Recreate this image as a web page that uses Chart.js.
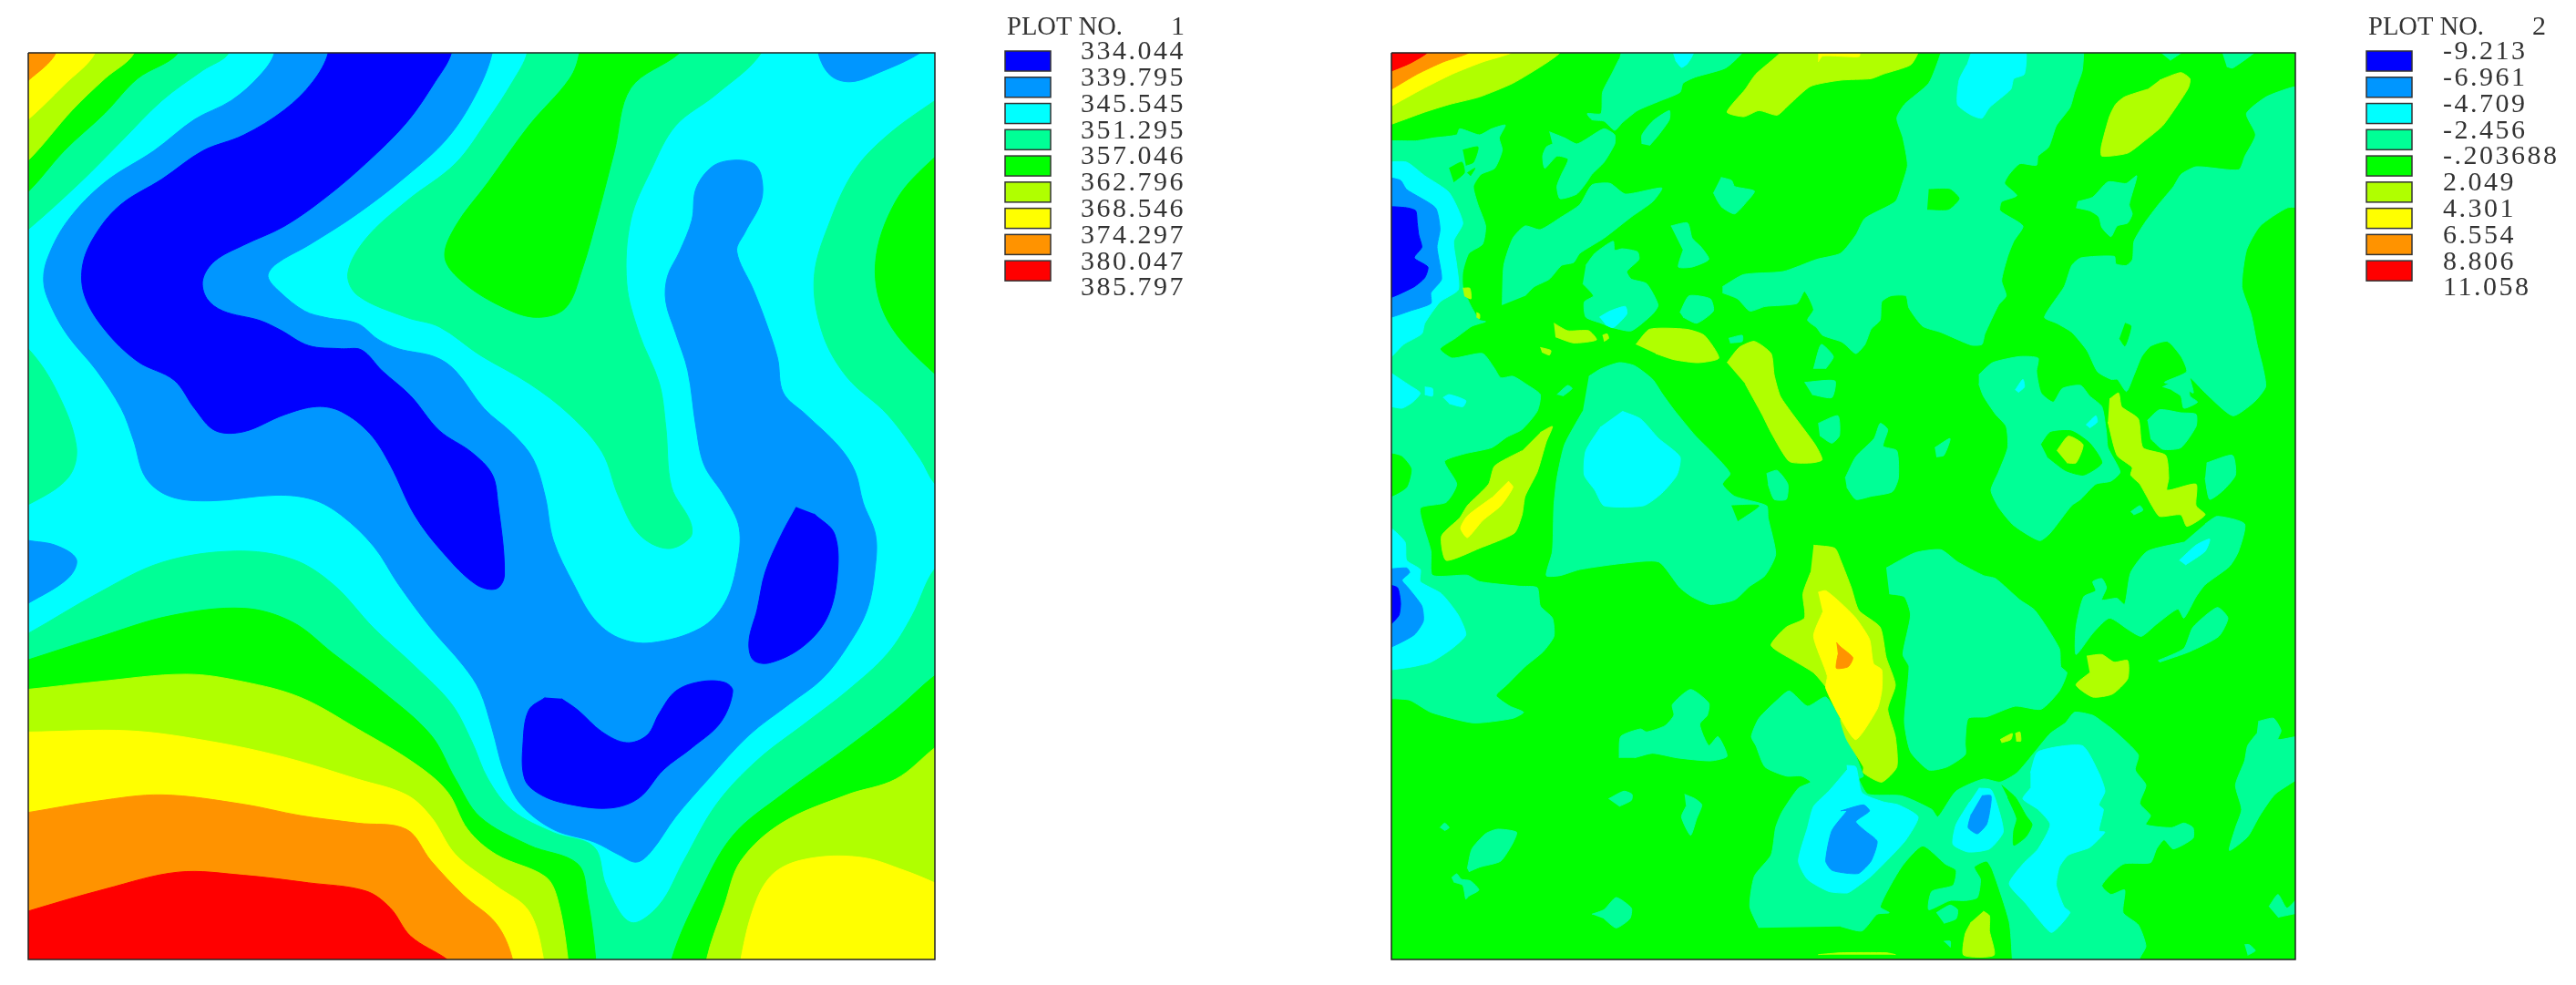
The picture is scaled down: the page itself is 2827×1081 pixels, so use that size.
<!DOCTYPE html>
<html>
<head>
<meta charset="utf-8">
<title>Plots</title>
<script src="https://cdn.jsdelivr.net/npm/chart.js@4"></script>
<style>
  html, body { margin: 0; background: #fff; }
  canvas { position: absolute; top: 0; }
</style>
</head>
<body>
<canvas id="plot1" width="1413" height="1081" style="left:0"></canvas>
<canvas id="plot2" width="1414" height="1081" style="left:1413px"></canvas>
<script>
// band colours, lowest to highest
const BLUE = '#0000ff', SKY = '#0096ff', CYAN = '#00ffff', TEAL = '#00ff96', GREEN = '#00ff00',
      LIME = '#b0ff00', YELLOW = '#ffff00', ORANGE = '#ff9300', RED = '#ff0000';
const bandColors = [BLUE, SKY, CYAN, TEAL, GREEN, LIME, YELLOW, ORANGE, RED];

const plotName = 'PLOT NO.';
const plot1Ticks = ['334.044', '339.795', '345.545', '351.295', '357.046', '362.796', '368.546', '374.297', '380.047', '385.797'];
const plot2Ticks = ['-9.213', '-6.961', '-4.709', '-2.456', '-.203688', '2.049', '4.301', '6.554', '8.806', '11.058'];

// plot 1 contour outlines as x,y,x,y...
const p1Teal = [
  [0,40, 282,40, 282,84, 250,112, 200,160, 150,225, 100,290, 36,365, 0,400],
  [648,40, 648,84, 630,130, 600,190, 560,260, 500,320, 450,380, 428,435, 440,470, 500,505, 540,520, 590,565, 650,610, 700,660, 740,720, 760,790, 785,850, 820,873, 848,855, 848,830, 825,775, 818,680, 810,610, 785,530, 770,450, 775,350, 800,270, 830,200, 880,150, 935,84, 935,40],
  [1190,125, 1148,160, 1090,215, 1050,270, 1020,350, 1000,440, 1010,530, 1040,600, 1090,660, 1130,730, 1148,770, 1190,820],
  [0,520, 36,555, 70,620, 95,710, 85,760, 36,803, 0,820],
  [0,1030, 36,1008, 120,945, 200,895, 290,877, 360,890, 410,930, 460,1000, 510,1060, 555,1120, 580,1180, 600,1240, 630,1290, 680,1325, 730,1348, 745,1410, 775,1468, 810,1440, 840,1370, 880,1280, 930,1210, 990,1150, 1040,1100, 1090,1040, 1120,980, 1148,905, 1190,860, 1190,1570, 0,1570]
];
const p1Green = [
  [0,40, 220,40, 220,84, 170,125, 130,180, 80,240, 36,305, 0,340],
  [712,40, 712,84, 700,125, 650,200, 600,290, 560,360, 547,410, 570,450, 620,490, 660,505, 695,490, 715,430, 735,340, 755,240, 775,140, 835,84, 860,40],
  [1190,210, 1148,250, 1100,320, 1075,420, 1090,510, 1148,595, 1190,630],
  [0,1065, 36,1050, 120,1015, 210,980, 300,968, 360,990, 410,1040, 470,1100, 530,1170, 560,1240, 590,1300, 650,1345, 710,1375, 722,1430, 732,1527, 732,1570, 0,1570],
  [825,1570, 825,1527, 860,1420, 900,1330, 960,1265, 1040,1190, 1100,1130, 1148,1075, 1190,1040, 1190,1570]
];
const p1Lime = [
  [0,40, 166,40, 166,84, 130,125, 90,175, 36,255, 0,290],
  [0,1100, 36,1097, 120,1085, 230,1073, 300,1085, 370,1110, 440,1160, 510,1215, 550,1260, 575,1320, 610,1360, 670,1395, 685,1430, 698,1527, 698,1570, 0,1570],
  [868,1570, 868,1527, 890,1440, 910,1370, 960,1310, 1040,1265, 1100,1240, 1148,1190, 1190,1150, 1190,1570]
];
const p1Yellow = [
  [0,40, 118,40, 118,84, 80,135, 36,190, 0,225],
  [0,1165, 36,1165, 160,1163, 260,1180, 350,1205, 440,1240, 500,1265, 530,1300, 560,1360, 610,1410, 650,1450, 668,1527, 668,1570, 0,1570],
  [910,1570, 910,1527, 930,1430, 955,1385, 1000,1365, 1060,1365, 1110,1385, 1148,1405, 1190,1430, 1190,1570]
];
const p1Orange = [
  [0,40, 70,40, 70,84, 36,128, 0,165],
  [0,1300, 36,1293, 120,1275, 200,1265, 300,1280, 370,1298, 440,1310, 500,1320, 530,1370, 570,1425, 610,1470, 630,1527, 630,1570, 0,1570]
];
const p1Red = [
  [0,1465, 36,1450, 130,1415, 220,1388, 300,1393, 380,1405, 450,1418, 480,1445, 505,1490, 550,1527, 590,1570, 0,1570]
];
const p1Sky = [
  [338,40, 338,84, 320,120, 285,160, 240,190, 190,240, 130,290, 85,350, 60,410, 55,450, 65,490, 85,535, 120,590, 150,650, 165,700, 180,760, 210,790, 260,797, 340,788, 385,795, 420,820, 460,870, 490,930, 530,1000, 570,1060, 590,1100, 605,1160, 620,1230, 640,1280, 680,1320, 730,1340, 760,1360, 782,1372, 800,1355, 830,1300, 870,1240, 920,1170, 970,1120, 1010,1080, 1040,1030, 1065,970, 1075,900, 1075,850, 1060,800, 1050,750, 1030,710, 990,660, 962,625, 955,570, 940,510, 925,460, 905,400, 915,370, 935,320, 935,280, 925,260, 900,255, 875,265, 855,300, 850,350, 835,400, 820,440, 818,480, 830,530, 845,590, 855,680, 865,740, 890,790, 908,840, 905,900, 890,960, 860,1000, 800,1023, 760,1015, 730,985, 705,930, 680,860, 670,790, 655,730, 630,690, 595,650, 560,590, 535,568, 490,555, 465,540, 440,515, 400,505, 375,495, 345,465, 330,440, 340,420, 380,390, 440,340, 500,280, 550,220, 585,150, 605,84, 605,40],
  [1005,40, 1005,84, 1020,120, 1045,130, 1080,115, 1130,84, 1170,40],
  [0,850, 36,860, 70,868, 95,890, 85,920, 36,960, 0,985]
];
const p1Blue = [
  [404,40, 404,84, 385,130, 350,175, 300,215, 250,240, 200,285, 150,325, 120,370, 103,420, 105,470, 130,525, 170,575, 215,605, 240,650, 265,685, 300,687, 350,660, 390,647, 420,655, 455,690, 480,740, 510,820, 545,880, 585,930, 610,937, 620,915, 612,800, 605,755, 580,720, 540,685, 505,630, 470,590, 445,557, 420,555, 380,550, 345,525, 320,510, 275,495, 255,475, 250,445, 265,415, 300,390, 350,360, 400,315, 450,260, 500,195, 535,130, 555,84, 555,40],
  [978,807, 960,850, 940,910, 930,970, 920,1020, 925,1050, 945,1055, 985,1030, 1015,985, 1028,920, 1025,850, 1000,818],
  [670,1110, 650,1130, 643,1180, 645,1240, 665,1265, 700,1280, 750,1286, 785,1270, 815,1225, 850,1190, 885,1150, 900,1100, 890,1086, 860,1085, 830,1100, 810,1135, 795,1170, 770,1182, 740,1165, 710,1130, 690,1112]
];

// plot 2 contour outlines
const p2Teal = [
  // left side, around the cold spots
  [-20,295, 0,290, 80,290, 140,280, 215,270, 225,250, 290,270, 330,250, 375,238, 355,280, 365,320, 340,380, 295,400, 270,440, 285,500, 310,570, 300,630, 255,660, 235,720, 235,770, 260,830, 290,880, 310,885, 265,900, 210,940, 160,975, 200,1005, 300,990, 340,1040, 360,1070, 400,1065, 450,1095, 490,1125, 480,1180, 430,1240, 380,1265, 330,1300, 240,1320, 175,1345, 215,1420, 180,1480, 95,1500, 130,1640, 135,1720, 250,1720, 290,1741, 420,1756, 480,1761, 490,1821, 530,1861, 535,1921, 500,1971, 440,2021, 380,2081, 345,2116, 390,2151, 435,2171, 400,2191, 270,2206, 130,2171, 60,2131, 0,2126, -20,2126],
  // top
  [760,-20, 1155,-20, 1155,0, 1100,50, 1000,80, 960,100, 950,130, 880,160, 810,190, 760,230, 735,255, 700,225, 660,220, 645,200, 690,200, 695,130, 725,70, 750,20],
  [825,300, 825,270, 860,225, 915,190, 915,220, 880,270, 850,305],
  [520,260, 570,280, 610,300, 640,285, 700,250, 735,270, 735,300, 700,360, 660,400, 640,430, 610,465, 555,480, 545,440, 560,400, 582,350, 545,340, 505,380, 498,340, 510,310, 530,300],
  [365,830, 370,700, 400,610, 440,570, 490,582, 560,540, 620,500, 660,435, 720,430, 770,465, 890,445, 860,490, 790,540, 700,610, 620,660, 600,690, 560,700, 520,745, 470,770, 440,800],
  [640,700, 670,660, 730,620, 735,650, 760,645, 810,655, 815,680, 775,720, 790,745, 840,760, 878,830, 860,860, 790,915, 730,905, 690,890, 640,870, 635,820, 665,800, 630,760],
  [1085,410, 1120,420, 1130,440, 1195,455, 1170,490, 1130,530, 1090,510, 1075,490, 1060,460],
  [920,570, 975,560, 990,610, 1020,640, 1045,680, 990,705, 945,705, 960,650],
  [950,855, 980,800, 1050,810, 1060,850, 1005,890, 960,870],
  // big centre top block
  [1090,770, 1160,730, 1290,720, 1400,680, 1479,660, 1529,600, 1559,545, 1659,490, 1679,440, 1699,370, 1684,280, 1664,215, 1689,170, 1769,100, 1809,0, 1809,-20, 2279,-20, 2279,0, 2274,60, 2249,130, 2234,180, 2189,240, 2164,310, 2129,340, 2124,370, 2069,365, 2034,400, 2019,430, 2059,470, 2009,490, 2004,520, 2079,570, 2049,620, 2029,670, 2009,750, 2024,800, 1999,830, 1954,925, 1944,960, 1909,962, 1809,920, 1749,900, 1704,840, 1694,800, 1644,800, 1614,820, 1609,880, 1579,910, 1559,960, 1529,990, 1494,960, 1479,950, 1420,930, 1400,905, 1370,880, 1390,845, 1360,785, 1335,825, 1230,835, 1180,850, 1140,810, 1090,790],
  [2509,-20, 2624,-20, 2564,25],
  [2729,-20, 2860,-20, 2770,50, 2750,45],
  // right block
  [3010,105, 2960,115, 2880,145, 2815,200, 2845,270, 2810,340, 2790,385, 2650,375, 2600,400, 2575,440, 2525,500, 2480,560, 2445,620, 2440,680, 2420,700, 2385,695, 2380,670, 2270,675, 2240,700, 2215,770, 2150,870, 2190,890, 2240,920, 2290,980, 2325,1050, 2370,1075, 2390,1075, 2420,1115, 2445,1060, 2470,1000, 2500,965, 2555,950, 2600,1000, 2618,1050, 2545,1085, 2600,1095, 2640,1120, 2630,1070, 2680,1120, 2770,1195, 2840,1150, 2878,1100, 2870,1040, 2850,960, 2830,860, 2800,770, 2815,650, 2860,570, 2950,510, 3010,510],
  [2259,490, 2309,475, 2359,425, 2419,430, 2454,405, 2429,500, 2439,530, 2424,560, 2389,570, 2369,605, 2339,575, 2329,540, 2299,520, 2254,510],
  [1934,1060, 1979,1020, 2069,1000, 2129,1005, 2124,1050, 2139,1120, 2179,1150, 2209,1105, 2269,1095, 2299,1130, 2339,1165, 2354,1250, 2359,1300, 2399,1380, 2369,1410, 2319,1420, 2269,1470, 2239,1491, 2169,1581, 2134,1606, 2049,1556, 1999,1496, 1974,1440, 1999,1380, 2029,1300, 2024,1230, 1989,1190, 1949,1130, 1934,1090],
  [2489,1210, 2529,1175, 2599,1185, 2649,1190, 2649,1230, 2599,1300, 2539,1305, 2499,1270],
  [2539,1100, 2619,1065, 2629,1130, 2654,1150, 2609,1170, 2599,1130, 2569,1110],
  [2684,1350, 2769,1325, 2779,1390, 2739,1440, 2694,1470, 2679,1400],
  [1494,1400, 1529,1330, 1589,1270, 1609,1220, 1634,1240, 1619,1295, 1664,1310, 1669,1400, 1649,1445, 1579,1460, 1529,1470, 1499,1430],
  [1789,1300, 1839,1270, 1819,1325, 1794,1330],
  [1405,1220, 1470,1195, 1475,1260, 1450,1285, 1410,1260],
  [1360,1085, 1460,1080, 1450,1135, 1385,1125],
  [1390,1040, 1415,960, 1455,1000, 1430,1040],
  [1235,1385, 1270,1375, 1305,1420, 1300,1470, 1260,1470, 1240,1420],
  [545,1125, 580,1095, 595,1105, 565,1130],
  [1110,940, 1155,930, 1155,950, 1115,955],
  // centre left block with the cyan spot
  [650,1065, 690,1040, 750,1020, 800,1030, 860,1075, 890,1120, 930,1175, 1000,1260, 1060,1320, 1115,1385, 1090,1420, 1130,1460, 1235,1491, 1240,1531, 1265,1651, 1230,1721, 1180,1756, 1130,1801, 1050,1816, 990,1791, 950,1761, 880,1676, 760,1681, 620,1701, 555,1721, 510,1721, 530,1641, 535,1491, 545,1400, 570,1290, 630,1180],
  [1629,1696, 1724,1646, 1809,1636, 1864,1676, 1949,1721, 1989,1731, 2069,1801, 2119,1836, 2199,1961, 2204,2021, 2224,2041, 2199,2101, 2139,2161, 2054,2151, 1959,2186, 1899,2191, 1889,2271, 1889,2311, 1829,2351, 1769,2361, 1709,2301, 1689,2201, 1704,2021, 1684,1981, 1709,1851, 1689,1791, 1639,1781],
  [2679,1551, 2719,1526, 2809,1551, 2789,1641, 2759,1691, 2679,1751, 2649,1791, 2609,1861, 2589,1831, 2519,1881, 2469,1921, 2429,1901, 2364,1861, 2309,1911, 2254,1981, 2254,1891, 2279,1791, 2319,1771, 2309,1741, 2339,1731, 2354,1761, 2339,1801, 2389,1796, 2414,1816, 2434,1711, 2489,1641, 2609,1611],
  [2524,2001, 2609,1961, 2639,1891, 2719,1826, 2754,1861, 2724,1921, 2629,1971, 2529,2006],
  [2854,2201, 2904,2191, 2929,2231, 2919,2261, 3010,2251, 3010,2366, 2909,2441, 2859,2511, 2819,2581, 2759,2626, 2779,2551, 2799,2491, 2779,2411, 2809,2331, 2819,2281, 2849,2241],
  // bottom block
  [1210,2881, 1180,2811, 1195,2711, 1250,2641, 1265,2551, 1285,2501, 1340,2421, 1380,2401, 1350,2381, 1300,2381, 1230,2351, 1200,2281, 1185,2251, 1210,2191, 1270,2131, 1310,2101, 1370,2151, 1430,2121, 1480,2200, 1554,2381, 1539,2391, 1569,2441, 1679,2446, 1779,2491, 1799,2516, 1859,2431, 1949,2391, 2004,2401, 2059,2371, 2119,2301, 2169,2241, 2219,2206, 2249,2171, 2309,2181, 2339,2201, 2379,2231, 2459,2311, 2449,2361, 2484,2411, 2464,2471, 2499,2511, 2484,2541, 2569,2551, 2609,2536, 2639,2551, 2639,2586, 2574,2621, 2544,2591, 2519,2621, 2499,2666, 2409,2671, 2339,2741, 2369,2771, 2414,2756, 2409,2831, 2459,2871, 2484,2941, 2464,2981, 2464,3010, 2044,3010, 2044,2981, 2034,2861, 1979,2691, 1959,2661, 1919,2681, 1939,2721, 1929,2781, 1889,2791, 1839,2791, 1769,2821, 1779,2761, 1849,2741, 1859,2691, 1824,2671, 1749,2611, 1679,2681, 1609,2811, 1639,2831, 1599,2836, 1549,2891, 1479,2876],
  [1794,2831, 1839,2806, 1864,2821, 1859,2851, 1819,2866],
  [1819,2925, 1840,2925, 1840,2945],
  // scattered patches lower left
  [250,2686, 265,2621, 310,2571, 350,2556, 412,2566, 400,2601, 360,2661, 290,2681, 255,2696],
  [198,2716, 215,2703, 230,2721, 260,2726, 288,2756, 255,2776, 245,2786, 235,2741, 205,2730],
  [715,2456, 765,2431, 792,2441, 790,2461, 750,2481],
  [965,2441, 1000,2456, 1022,2476, 1005,2521, 985,2576, 955,2516, 970,2481],
  [660,2836, 700,2821, 740,2781, 790,2816, 785,2851, 740,2881, 700,2851],
  [160,2551, 175,2536, 190,2551, 175,2561],
  [750,2321, 755,2251, 820,2226, 840,2236, 900,2216, 930,2181, 925,2146, 985,2096, 1045,2141, 1040,2181, 1015,2211, 1045,2281, 1075,2251, 1105,2316, 1050,2331, 940,2321, 860,2306, 800,2321],
  [2889,2811, 2919,2771, 2949,2816, 3010,2756, 3010,2821, 2919,2846],
  [2809,2936, 2824,2936, 2844,2956, 2819,2971],
  [2434,1511, 2464,1491, 2474,1506, 2444,1521]
];
const p2Green = [
  [-20,1320, 0,1320, 35,1330, 65,1370, 50,1430, 0,1460, -20,1460],
  [190,380, 232,360, 240,395, 205,425],
  [235,320, 285,310, 270,360, 245,370],
  [250,395, 275,380, 260,405],
  [1769,450, 1839,450, 1869,480, 1834,515, 1764,515],
  [2415,890, 2435,900, 2415,965, 2397,940],
  [2139,1290, 2169,1250, 2239,1245, 2299,1285, 2339,1350, 2279,1390, 2219,1375, 2159,1330],
  [1120,1491, 1210,1491, 1140,1541],
  [2009,2411, 2054,2451, 2089,2511, 2109,2541, 2089,2581, 2049,2609, 2049,2561, 2059,2521, 2029,2451]
];
const p2Cyan = [
  [920,-20, 995,-20, 995,0, 975,35, 955,48, 935,25],
  [1914,-20, 2084,-20, 2084,70, 2049,85, 2039,120, 1969,180, 1944,215, 1909,205, 1864,170, 1869,90, 1894,40],
  [-20,360, 50,360, 110,405, 190,460, 235,560, 205,620, 215,700, 220,780, 160,820, 110,890, 100,925, 40,960, 0,1000, -20,1000],
  [0,1055, 60,1095, 95,1120, 70,1150, 35,1170, 0,1165, -20,1165, -20,1055],
  [110,1100, 135,1105, 135,1130, 110,1125],
  [170,1135, 190,1125, 245,1145, 235,1165, 190,1155],
  [-20,1566, 0,1566, 45,1611, 50,1671, 95,1701, 95,1741, 165,1781, 220,1851, 245,1916, 200,1961, 130,2006, 70,2021, 0,2031, -20,2031],
  [685,870, 720,850, 770,835, 775,860, 730,905, 705,895],
  [760,1180, 820,1205, 880,1270, 950,1330, 940,1390, 890,1450, 830,1491, 700,1491, 670,1440, 635,1390, 640,1310, 690,1230],
  [2054,1110, 2079,1075, 2084,1100, 2064,1118],
  [2287,1225, 2319,1195, 2324,1215, 2299,1235],
  [2594,1671, 2649,1621, 2694,1601, 2679,1641, 2614,1686],
  [2104,2371, 2129,2301, 2274,2281, 2329,2371, 2349,2431, 2329,2476, 2344,2491, 2329,2561, 2349,2566, 2299,2616, 2229,2641, 2199,2681, 2189,2741, 2214,2811, 2234,2831, 2174,2896, 2129,2851, 2089,2801, 2034,2736, 2079,2671, 2129,2621, 2169,2541, 2129,2491, 2079,2456, 2104,2421],
  [1934,2421, 1974,2426, 1999,2491, 2014,2566, 1969,2621, 1899,2631, 1849,2606, 1859,2541, 1904,2466],
  [1500,2361, 1440,2431, 1390,2481, 1370,2551, 1340,2661, 1370,2721, 1440,2761, 1500,2766, 1519,2756, 1579,2711, 1649,2641, 1694,2591, 1734,2516, 1669,2476, 1619,2466, 1549,2436, 1529,2351, 1499,2346]
];
const p2Sky = [
  [-20,408, 30,420, 50,450, 145,510, 160,580, 150,640, 165,745, 130,790, 130,825, 60,850, 0,870, -20,870],
  [-20,1701, 50,1696, 60,1711, 35,1736, 55,1761, 100,1821, 105,1871, 75,1916, 0,1956, -20,1956],
  [1944,2446, 1974,2446, 1969,2501, 1959,2541, 1929,2571, 1899,2551, 1909,2506],
  [1500,2496, 1450,2561, 1430,2661, 1450,2691, 1500,2701, 1539,2701, 1579,2661, 1599,2596, 1559,2561, 1529,2531, 1574,2496, 1554,2476, 1479,2496]
];
const p2Blue = [
  [-20,505, 50,510, 80,520, 85,560, 90,600, 100,640, 75,675, 120,705, 110,740, 75,770, 0,805, -20,805],
  [-20,1749, 20,1761, 30,1811, 25,1851, 0,1879, -20,1879]
];
const p2Lime = [
  [-20,-20, 555,-20, 555,0, 500,40, 400,100, 290,145, 190,170, 110,195, 0,235, -20,240],
  [1280,-20, 1280,0, 1200,70, 1165,120, 1105,195, 1160,210, 1210,190, 1270,205, 1310,170, 1380,110, 1479,90, 1579,85, 1619,70, 1709,40, 1734,0, 1734,-20],
  [2529,90, 2599,65, 2629,85, 2624,115, 2589,170, 2539,240, 2479,290, 2424,330, 2339,340, 2337,310, 2364,210, 2384,170, 2414,145, 2489,120],
  [490,1250, 530,1230, 510,1280, 480,1380, 440,1460, 430,1521, 405,1581, 290,1631, 180,1671, 165,1591, 225,1531, 250,1491, 320,1420, 340,1360, 430,1310],
  [235,775, 258,775, 262,810, 240,800],
  [280,855, 290,860, 290,875, 280,870],
  [535,890, 580,915, 650,915, 675,945, 600,955, 540,935],
  [695,930, 710,925, 715,940, 700,950],
  [490,970, 525,980, 520,995, 495,985],
  [805,960, 850,910, 970,910, 1030,930, 1078,1005, 1010,1020, 930,1010, 870,990],
  [1105,1020, 1145,970, 1195,950, 1250,990, 1260,1060, 1280,1130, 1325,1195, 1395,1290, 1418,1340, 1380,1350, 1310,1345, 1250,1250, 1220,1190, 1165,1090],
  [1390,1621, 1460,1631, 1479,1671, 1514,1761, 1539,1836, 1609,1891, 1629,1991, 1659,2081, 1634,2161, 1659,2251, 1664,2351, 1614,2401, 1554,2371, 1554,2351, 1499,2261, 1479,2201, 1480,2181, 1440,2101, 1390,2041, 1325,2001, 1250,1951, 1300,1891, 1360,1861, 1355,1781, 1380,1711],
  [2364,1140, 2394,1120, 2404,1165, 2459,1205, 2474,1300, 2549,1325, 2559,1400, 2554,1440, 2649,1420, 2649,1491, 2679,1521, 2619,1559, 2599,1521, 2529,1526, 2504,1491, 2464,1420, 2434,1390, 2439,1365, 2389,1325, 2359,1215],
  [2191,1310, 2229,1262, 2277,1290, 2254,1350, 2224,1350],
  [2289,1986, 2339,1981, 2379,2006, 2424,2001, 2424,2061, 2374,2111, 2309,2121, 2254,2081, 2299,2041],
  [2004,2261, 2044,2241, 2039,2261, 2009,2271],
  [2054,2241, 2069,2236, 2072,2266, 2057,2266],
  [1949,2826, 1969,2841, 1969,2891, 1984,2971, 1884,2971, 1889,2901, 1909,2861],
  [1405,2969, 1480,2963, 1629,2963, 1660,2969]
];
const p2Yellow = [
  [-20,-20, 395,-20, 395,0, 300,30, 200,70, 100,120, 0,175, -20,185],
  [1405,30, 1420,10, 1540,12, 1539,-10, 1405,-10],
  [385,1410, 400,1430, 360,1491, 300,1540, 250,1596, 228,1565, 250,1525, 330,1465],
  [1405,1776, 1430,1771, 1479,1811, 1529,1861, 1574,1931, 1587,2011, 1614,2031, 1614,2101, 1599,2161, 1529,2261, 1479,2191, 1430,2091, 1435,2051, 1390,1921, 1420,1841]
];
const p2Orange = [
  [-20,-20, 255,-20, 255,0, 170,30, 85,70, 0,120, -20,130],
  [1465,1941, 1479,1956, 1519,1991, 1504,2021, 1465,2026, 1470,1981]
];
const p2Red = [
  [-20,-20, 118,-20, 118,0, 60,35, 0,60, -20,70]
];

// flat x,y list -> scatter points
function toPoints(flat) {
  const pts = [];
  for (let i = 0; i < flat.length; i += 2) pts.push({ x: flat[i], y: flat[i + 1] });
  return pts;
}

function buildDatasets(layers, box, tension) {
  const sets = [];
  // background band first, then every layer on top of it
  layers.forEach(([outlines, color]) => {
    outlines.forEach(flat => {
      sets.push({
        data: toPoints(flat), showLine: true, fill: 'shape', tension: tension,
        backgroundColor: color, borderColor: color, borderWidth: 1, pointRadius: 0
      });
    });
  });
  sets.push({
    data: toPoints([box.x0, box.y0, box.x1, box.y0, box.x1, box.y1, box.x0, box.y1, box.x0, box.y0]),
    showLine: true, fill: false, tension: 0, borderColor: '#222', borderWidth: 1.5, pointRadius: 0, clip: false
  });
  // chart.js draws the highest order first
  sets.forEach((s, i) => { s.order = sets.length - i; });
  return sets;
}

// colour key: swatches with the level values between them
const keyPlugin = {
  id: 'key',
  afterDraw(chart, args, o) {
    const ctx = chart.ctx;
    ctx.save();
    bandColors.forEach((c, i) => {
      const y = 56 + i * 28.77;
      ctx.fillStyle = c;
      ctx.strokeStyle = '#333';
      ctx.lineWidth = 1.5;
      ctx.fillRect(o.swatchX, y, 50, 22);
      ctx.strokeRect(o.swatchX, y, 50, 22);
    });
    ctx.fillStyle = '#333';
    ctx.font = '30px "Liberation Serif"';
    ctx.textBaseline = 'alphabetic';
    ctx.letterSpacing = '2.5px';
    o.ticks.forEach((t, i) => ctx.fillText(t, o.labelX, 65.2 + i * 28.79));
    ctx.letterSpacing = '0px';
    ctx.fillText(plotName, o.titleX, 38, 127);
    ctx.fillText(o.number, o.numberX, 38);
    ctx.restore();
  }
};

function makeChart(id, layers, box, tension, pad, key) {
  return new Chart(document.getElementById(id), {
    type: 'scatter',
    data: { datasets: buildDatasets(layers, box, tension) },
    plugins: [keyPlugin],
    options: {
      responsive: false,
      animation: false,
      devicePixelRatio: 1,
      layout: { padding: pad },
      elements: { line: { capBezierPoints: false } },
      scales: {
        x: { display: false, min: box.x0, max: box.x1 },
        y: { display: false, reverse: true, min: box.y0, max: box.y1 }
      },
      plugins: { legend: { display: false }, tooltip: { enabled: false }, key: key }
    }
  });
}

const box1 = { x0: 36, x1: 1148, y0: 84, y1: 1527 };
const box2 = { x0: 0, x1: 2976, y0: 0, y1: 2985 };
const full = [[-100, -100, 3100, -100, 3100, 3100, -100, 3100]];

makeChart('plot1', [
  [full, CYAN], [p1Teal, TEAL], [p1Green, GREEN], [p1Lime, LIME], [p1Yellow, YELLOW],
  [p1Orange, ORANGE], [p1Red, RED], [p1Sky, SKY], [p1Blue, BLUE]
], box1, 0.35, { left: 31, top: 58, right: 387, bottom: 28 },
  { number: '1', ticks: plot1Ticks, swatchX: 1103, titleX: 1105, numberX: 1285, labelX: 1186 });

makeChart('plot2', [
  [full, GREEN], [p2Teal, TEAL], [p2Green, GREEN], [p2Cyan, CYAN], [p2Sky, SKY], [p2Blue, BLUE],
  [p2Lime, LIME], [p2Yellow, YELLOW], [p2Orange, ORANGE], [p2Red, RED]
], box2, 0.2, { left: 114, top: 58, right: 308, bottom: 28 },
  { number: '2', ticks: plot2Ticks, swatchX: 1184, titleX: 1186, numberX: 1366, labelX: 1268 });
</script>
</body>
</html>
